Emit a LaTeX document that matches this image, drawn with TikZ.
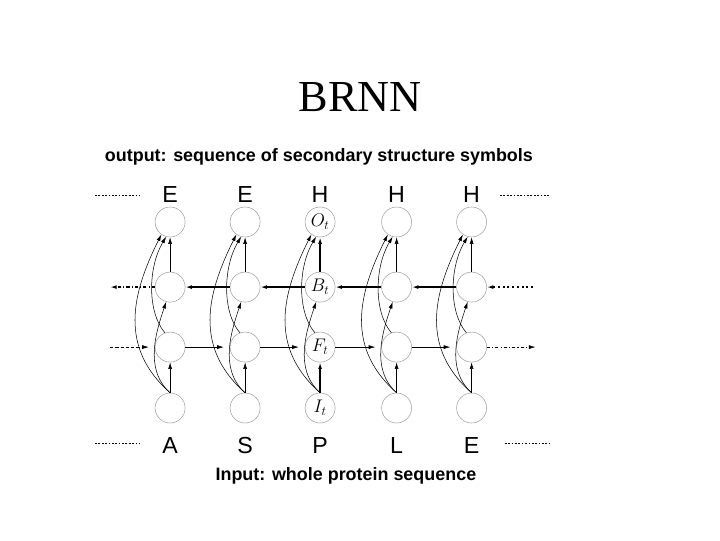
\documentclass[tikz,border=0pt]{standalone}
\usepackage{fontspec}
\setmainfont{Liberation Serif}
\setsansfont{Liberation Sans}
\usepackage{tikz}
\usetikzlibrary{arrows.meta}

\begin{document}
\begin{tikzpicture}[
  unit/.style={circle,draw=gray!75,line width=0.5pt,minimum size=1cm,inner sep=0pt,font=\fontsize{17}{17}\selectfont},
  sym/.style={font=\sffamily\fontsize{22}{22}\selectfont},
  arr/.style={-{Latex[length=2.2mm,width=1.3mm]},line width=0.5pt},
  thickarr/.style={arr,line width=1.3pt},
  dots/.style={dash pattern=on 1.6pt off 1.6pt,line width=0.7pt}
]
  \useasboundingbox (0,0) rectangle (24,18);
  \node (title) at (12,14.77){\fontsize{42}{42}\selectfont BRNN};
  \node (outtext) at (10.63,12.77){\sffamily\bfseries\fontsize{17}{17}\selectfont output: sequence of secondary structure symbols};
  \node (intext) at (11.53,2.13){\sffamily\bfseries\fontsize{17}{17}\selectfont Input: whole protein sequence};
  % output symbols
  \node[sym] (y1) at (5.67,11.5){E};
  \node[sym] (y2) at (8.17,11.5){E};
  \node[sym] (y3) at (10.67,11.5){H};
  \node[sym] (y4) at (13.22,11.5){H};
  \node[sym] (y5) at (15.72,11.5){H};
  % input symbols
  \node[sym] (x1) at (5.67,3.15){A};
  \node[sym] (x2) at (8.17,3.15){S};
  \node[sym] (x3) at (10.67,3.15){P};
  \node[sym] (x4) at (13.22,3.15){L};
  \node[sym] (x5) at (15.72,3.15){E};
  \draw[dots] (3.17,11.5) -- (4.67,11.5);
  \draw[dots] (16.67,11.5) -- (18.33,11.5);
  \draw[dots] (3.17,3.23) -- (4.67,3.23);
  \draw[dots] (16.83,3.23) -- (18.33,3.23);
  % units
  \node[unit] (o1) at (5.67,10.6){};
  \node[unit] (o2) at (8.17,10.6){};
  \node[unit] (o3) at (10.67,10.6){$O_t$};
  \node[unit] (o4) at (13.22,10.6){};
  \node[unit] (o5) at (15.72,10.6){};
  \node[unit] (b1) at (5.67,8.43){};
  \node[unit] (b2) at (8.17,8.43){};
  \node[unit] (b3) at (10.67,8.43){$B_t$};
  \node[unit] (b4) at (13.22,8.43){};
  \node[unit] (b5) at (15.72,8.43){};
  \node[unit] (f1) at (5.67,6.43){};
  \node[unit] (f2) at (8.17,6.43){};
  \node[unit] (f3) at (10.67,6.43){$F_t$};
  \node[unit] (f4) at (13.22,6.43){};
  \node[unit] (f5) at (15.72,6.43){};
  \node[unit] (i1) at (5.67,4.4){};
  \node[unit] (i2) at (8.17,4.4){};
  \node[unit] (i3) at (10.67,4.4){$I_t$};
  \node[unit] (i4) at (13.22,4.4){};
  \node[unit] (i5) at (15.72,4.4){};
  % ends of the chains
  \coordinate (bleft) at (3.67,8.43);
  \coordinate (bright) at (17.77,8.43);
  \coordinate (fleft) at (3.67,6.43);
  \coordinate (fright) at (17.85,6.43);
  % backward chain
  \draw[thickarr] (b2) -- (b1);
  \draw[thickarr] (b3) -- (b2);
  \draw[thickarr] (b4) -- (b3);
  \draw[thickarr] (b5) -- (b4);
  \draw[thickarr,dash pattern=on 3pt off 2pt on 1pt off 2pt] (b1) -- (bleft);
  \draw[thickarr,dash pattern=on 2pt off 2.5pt] (bright) -- (b5);
  % forward chain
  \draw[arr,shorten >=0.2cm] (f1) -- (f2);
  \draw[arr,shorten >=0.2cm] (f2) -- (f3);
  \draw[arr,shorten >=0.2cm] (f3) -- (f4);
  \draw[arr,shorten >=0.2cm] (f4) -- (f5);
  \draw[arr,shorten >=0.2cm,dash pattern=on 3pt off 2pt] (fleft) -- (f1);
  \draw[arr,dash pattern=on 3pt off 2pt on 1pt off 2pt] (f5) -- (fright);
  % vertical links
  \draw[arr] (i1) -- (f1);
  \draw[arr] (i2) -- (f2);
  \draw[thickarr] (i3) -- (f3);
  \draw[arr] (i4) -- (f4);
  \draw[arr] (i5) -- (f5);
  \draw[arr] (b1) -- (o1);
  \draw[arr] (b2) -- (o2);
  \draw[thickarr] (b3) -- (o3);
  \draw[arr] (b4) -- (o4);
  \draw[arr] (b5) -- (o5);
  % input to output
  \draw[arr] (i1.north) .. controls +(-1.7,1.5) and +(-1.0,-2.0) .. (o1.235);
  \draw[arr] (i2.north) .. controls +(-1.7,1.5) and +(-1.0,-2.0) .. (o2.235);
  \draw[arr] (i3.north) .. controls +(-1.7,1.5) and +(-1.0,-2.0) .. (o3.235);
  \draw[arr] (i4.north) .. controls +(-1.7,1.5) and +(-1.0,-2.0) .. (o4.235);
  \draw[arr] (i5.north) .. controls +(-1.7,1.5) and +(-1.0,-2.0) .. (o5.235);
  % input to backward
  \draw[arr] (i1.north) .. controls +(-0.9,0.8) and +(-0.3,-0.9) .. (b1.255);
  \draw[arr] (i2.north) .. controls +(-0.9,0.8) and +(-0.3,-0.9) .. (b2.255);
  \draw[arr] (i3.north) .. controls +(-0.9,0.8) and +(-0.3,-0.9) .. (b3.255);
  \draw[arr] (i4.north) .. controls +(-0.9,0.8) and +(-0.3,-0.9) .. (b4.255);
  \draw[arr] (i5.north) .. controls +(-0.9,0.8) and +(-0.3,-0.9) .. (b5.255);
  % forward to output
  \draw[arr] (f1.110) .. controls +(-0.6,0.7) and +(-0.6,-1.0) .. (o1.255);
  \draw[arr] (f2.110) .. controls +(-0.6,0.7) and +(-0.6,-1.0) .. (o2.255);
  \draw[arr] (f3.110) .. controls +(-0.6,0.7) and +(-0.6,-1.0) .. (o3.255);
  \draw[arr] (f4.110) .. controls +(-0.6,0.7) and +(-0.6,-1.0) .. (o4.255);
  \draw[arr] (f5.110) .. controls +(-0.6,0.7) and +(-0.6,-1.0) .. (o5.255);
\end{tikzpicture}
\end{document}
